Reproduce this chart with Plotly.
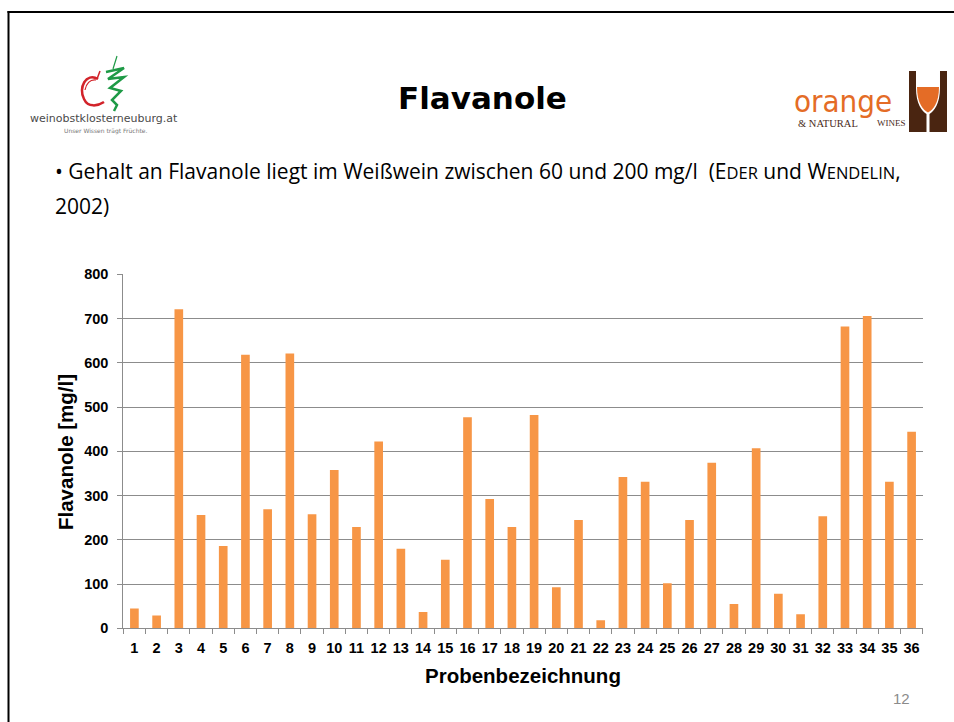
import plotly.graph_objects as go

W, H = 954, 722

# ---- data ----
samples = [str(i) for i in range(1, 37)]
flavanole = [45, 29, 721, 256, 186, 618, 269, 621, 258, 358, 229, 422,
             180, 37, 155, 477, 292, 229, 482, 93, 245, 18, 342, 331,
             102, 245, 374, 55, 407, 78, 32, 253, 682, 706, 331, 444]
y_ticks = [0, 100, 200, 300, 400, 500, 600, 700, 800]

title_text = "Flavanole"
x_title = "Probenbezeichnung"
y_title = "Flavanole [mg/l]"
sc = "font-size:16.5px"
bullet_line1 = ("• Gehalt an Flavanole liegt im Weißwein zwischen 60 und 200 mg/l  "
                f"(E<span style='{sc}'>DER</span> und W<span style='{sc}'>ENDELIN</span>,")
bullet_line2 = "2002)"
page_no = "12"


def X(p):
    return p / W


def Y(p):
    return 1 - p / H


def path(cmds):
    out = []
    for c in cmds:
        if isinstance(c, str):
            out.append(c)
        else:
            out.append(f"{X(c[0]):.5f},{Y(c[1]):.5f}")
    return " ".join(out)


fig = go.Figure(go.Bar(
    x=samples, y=flavanole, width=0.39,
    marker=dict(color="#F79646", line=dict(width=0)),
    hoverinfo="x+y",
))

axis_gray = "#8c8c8c"
tick_font = dict(family="Liberation Sans, Arial", size=14.5, color="#000000", weight="bold")

fig.update_layout(
    width=W, height=H,
    margin=dict(l=0, r=0, t=0, b=0),
    paper_bgcolor="white", plot_bgcolor="white",
    showlegend=False,
    template="none",
    font=dict(family="Liberation Sans, Arial", color="#000000"),
    xaxis=dict(
        domain=[X(123.3), X(922.7)], type="category", tickangle=0,
        showline=True, linecolor=axis_gray, linewidth=1,
        ticks="outside", tickson="boundaries", ticklen=5, tickcolor=axis_gray,
        showgrid=False, tickfont=tick_font, automargin=False, fixedrange=True,
        ticklabelstandoff=6,
    ),
    yaxis=dict(
        domain=[Y(628.3), Y(274.3)], range=[0, 800],
        tickvals=y_ticks, ticktext=[str(v) for v in y_ticks],
        showline=True, linecolor=axis_gray, linewidth=1,
        ticks="outside", ticklen=5, tickcolor=axis_gray,
        showgrid=True, gridcolor=axis_gray, gridwidth=1,
        zeroline=False, tickfont=tick_font, automargin=False, fixedrange=True,
        ticklabelstandoff=6,
    ),
)

annotations = [
    dict(text=f"<b>{title_text}</b>", x=X(482.5), y=Y(98.5), xanchor="center", yanchor="middle",
         font=dict(family="DejaVu Sans", size=31, color="#000000")),
    dict(text=bullet_line1, x=X(53), y=Y(171), xanchor="left", yanchor="middle",
         font=dict(family="Open Sans", size=21, color="#000000")),
    dict(text=bullet_line2, x=X(53), y=Y(206), xanchor="left", yanchor="middle",
         font=dict(family="Open Sans", size=21, color="#000000")),
    dict(text=f"<b>{x_title}</b>", x=X(522.5), y=Y(675), xanchor="center", yanchor="middle",
         font=dict(family="Liberation Sans, Arial", size=20.5, color="#000000")),
    dict(text=f"<b>{y_title}</b>", x=X(65), y=Y(452), xanchor="center", yanchor="middle",
         textangle=-90, font=dict(family="Liberation Sans, Arial", size=20.5, color="#000000")),
    dict(text=page_no, x=X(901), y=Y(698.5), xanchor="center", yanchor="middle",
         font=dict(family="Liberation Sans, Arial", size=15, color="#8B8B8B")),
    # left logo texts
    dict(text="weinobstklosterneuburg.at", x=X(104), y=Y(119), xanchor="center", yanchor="middle",
         font=dict(family="DejaVu Sans", size=11, color="#4a4a4a")),
    dict(text="Unser Wissen trägt Früchte.", x=X(106), y=Y(130.5), xanchor="center", yanchor="middle",
         font=dict(family="DejaVu Sans", size=6, color="#777777")),
    # right logo texts
    dict(text="orange", x=X(843), y=Y(101), xanchor="center", yanchor="middle",
         font=dict(family="Liberation Sans Narrow, DejaVu Sans Condensed, Arial Narrow", size=31,
                   color="#E46C26")),
    dict(text="&amp; NATURAL", x=X(827.5), y=Y(123), xanchor="center", yanchor="middle",
         font=dict(family="Liberation Serif, DejaVu Serif", size=10.5, color="#4a2a1a")),
    dict(text="WINES", x=X(891.5), y=Y(123), xanchor="center", yanchor="middle",
         font=dict(family="Liberation Serif, DejaVu Serif", size=9, color="#4a2a1a")),
]
for a in annotations:
    a.update(xref="paper", yref="paper", showarrow=False)
fig.update_layout(annotations=annotations)

shapes = [
    # slide frame
    dict(type="line", x0=X(8.5), x1=X(8.5), y0=Y(11), y1=Y(724), line=dict(color="black", width=2)),
    dict(type="line", x0=X(7.5), x1=X(956), y0=Y(12), y1=Y(12), line=dict(color="black", width=2)),
    # apple (red)
    dict(type="path", path=path(["M", (98, 79), "C", (86, 72), (78, 88), (84, 99), "C", (88, 108), (98, 106), (104, 102)]),
         line=dict(color="#D2232A", width=2.5)),
    dict(type="path", path=path(["M", (96, 80), "C", (90, 79), (86, 84), (85, 90)]),
         line=dict(color="#D2232A", width=1.2)),
    dict(type="path", path=path(["M", (97, 79), "L", (100, 71)]),
         line=dict(color="#D2232A", width=1.5)),
    # vine (green)
    dict(type="path", path=path(["M", (113, 69), "L", (117, 56)]),
         line=dict(color="#1E9A46", width=1.2)),
    dict(type="path", path=path(["M", (106, 72), "L", (124, 68), "L", (108, 79), "L", (124, 77),
                                  "L", (110, 88), "L", (121, 91), "L", (112, 100), "L", (117, 105), "L", (114, 111)]),
         line=dict(color="#1E9A46", width=2.5)),
    # glass logo
    dict(type="rect", x0=X(909), x1=X(947), y0=Y(132), y1=Y(71), fillcolor="#4A2511", line=dict(width=0)),
    dict(type="path", path=path(["M", (916, 71), "L", (940, 71), "L", (940, 88), "C", (940, 104), (934, 111), (929.5, 114),
                                  "L", (929.5, 132), "L", (926.5, 132), "L", (926.5, 114), "C", (922, 111), (916, 104), (916, 88), "Z"]),
         fillcolor="white", line=dict(width=0)),
    dict(type="path", path=path(["M", (917, 87), "L", (939, 87), "C", (939, 103), (933, 110), (928, 112.5),
                                  "C", (923, 110), (917, 103), (917, 87), "Z"]),
         fillcolor="#E46C26", line=dict(width=0)),
]
for s in shapes:
    s.update(xref="paper", yref="paper", layer="above")
fig.update_layout(shapes=shapes)

fig.write_html("out.html", config={"displayModeBar": False},
               post_script="document.body.style.margin='0';document.body.style.overflow='hidden';")
